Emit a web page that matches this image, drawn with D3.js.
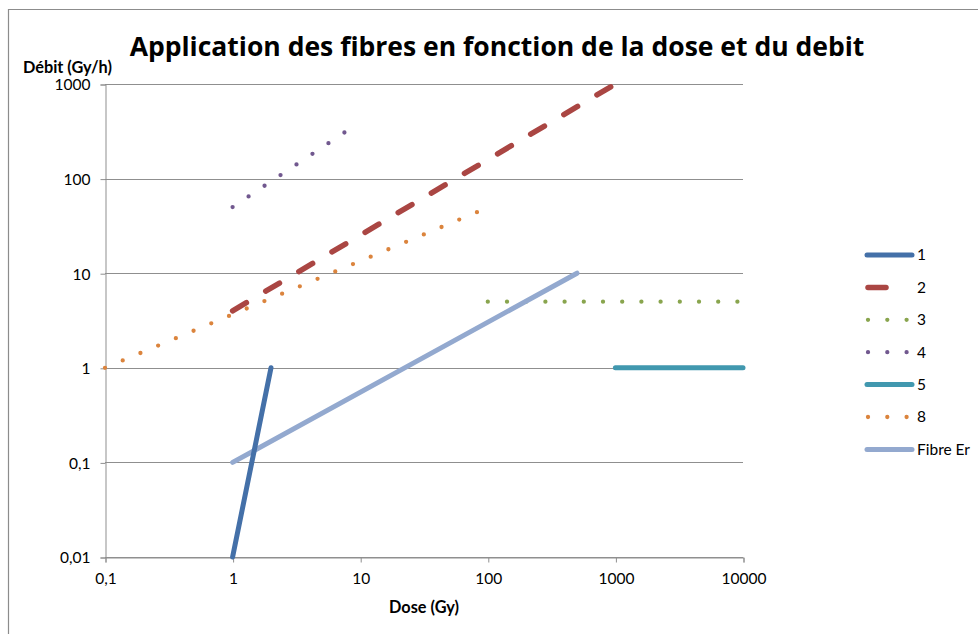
<!DOCTYPE html>
<html>
<head>
<meta charset="utf-8">
<script src="https://cdn.jsdelivr.net/npm/d3@7"></script>
<style>
  html, body { margin: 0; padding: 0; background: #fff; }
  svg { display: block; font-family: Lato, "Open Sans", sans-serif; }
</style>
</head>
<body>
<svg id="chart" width="978" height="634"></svg>
<script>
// Dose (Gy) / dose-rate (Gy/h) ranges for each fibre
const seriesNames = ["1", "2", "3", "4", "5", "8", "Fibre Er"];
const seriesColors = ["#4470a8", "#aa4643", "#89a54e", "#71588f", "#4198af", "#db843d", "#93a9cf"];
const seriesStyles = ["solid", "dash", "dot", "dot", "solid", "dot", "solid"];
const series1 = [[1, 0.01], [2, 1]];
const series2 = [[1, 4], [1000, 1000]];
const series3 = [[100, 5], [10000, 5]];
const series4 = [[1, 50], [7.6, 310]];
const series5 = [[1000, 1], [10000, 1]];
const series8 = [[0.1, 1], [85, 45]];
const seriesFibreEr = [[1, 0.1], [500, 10]];
const seriesData = [series1, series2, series3, series4, series5, series8, seriesFibreEr];
// painting order of the series (index into the arrays above)
const drawOrder = [1, 5, 2, 3, 4, 6, 0];

const xTicks = [0.1, 1, 10, 100, 1000, 10000];
const xTickLabels = ["0,1", "1", "10", "100", "1000", "10000"];
const yTicks = [0.01, 0.1, 1, 10, 100, 1000];
const yTickLabels = ["0,01", "0,1", "1", "10", "100", "1000"];

const titleText = "Application des fibres en fonction de la dose et du debit";
const xTitle = "Dose (Gy)";
const yTitle = "Débit (Gy/h)";

const svg = d3.select("#chart");
const plot = { left: 105, right: 743, top: 84, bottom: 557 };

const x = d3.scaleLog().domain([0.1, 10000]).range([plot.left, plot.right]);
const y = d3.scaleLog().domain([0.01, 1000]).range([plot.bottom, plot.top]);

// scale a text element's font so that it spans the given width
function fitWidth(sel, base, width) {
  const w = sel.node().getComputedTextLength();
  sel.style("font-size", (base * width / w).toFixed(2) + "px");
}

// outer frame
svg.append("path")
  .attr("d", "M8.5,634 L8.5,9.5 L978,9.5")
  .attr("fill", "none").attr("stroke", "#8c8c8c").attr("stroke-width", 1.2);

const gridColor = "#8f8f8f";
const tickFont = "15.5px";

// horizontal gridlines
svg.append("g").selectAll("line").data(yTicks).join("line")
  .attr("x1", plot.left).attr("x2", plot.right)
  .attr("y1", d => Math.round(y(d)) + 0.5).attr("y2", d => Math.round(y(d)) + 0.5)
  .attr("stroke", gridColor).attr("stroke-width", 1);

// y axis
const yAxis = d3.axisLeft(y).tickValues(yTicks)
  .tickFormat((d, i) => yTickLabels[i]).tickSize(5).tickPadding(10);
const gy = svg.append("g").attr("transform", `translate(${plot.left + 0.5},0.5)`).call(yAxis);

// x axis
const xAxis = d3.axisBottom(x).tickValues(xTicks)
  .tickFormat((d, i) => xTickLabels[i]).tickSize(5).tickPadding(10);
const gx = svg.append("g").attr("transform", `translate(0.5,${plot.bottom + 0.5})`).call(xAxis);

[gx, gy].forEach(g => {
  g.select(".domain").attr("stroke", gridColor);
  g.selectAll(".tick line").attr("stroke", gridColor);
  g.selectAll(".tick text").attr("fill", "#000").style("font-size", tickFont)
    .style("font-family", "Lato, 'Open Sans', sans-serif");
});
gy.selectAll(".tick text").attr("dy", "0.35em");

const line = d3.line().x(d => x(d[0])).y(d => y(d[1]));

function styleStroke(sel, style) {
  if (style === "dash") {
    sel.attr("stroke-width", 5.5).attr("stroke-linecap", "round").attr("stroke-dasharray", "16,22.5");
  } else if (style === "dot") {
    sel.attr("stroke-width", 4.3).attr("stroke-linecap", "round").attr("stroke-dasharray", "0,19.2");
  } else {
    sel.attr("stroke-width", 5).attr("stroke-linecap", "round");
  }
  return sel;
}

const gLines = svg.append("g");
drawOrder.forEach(i => {
  const p = gLines.append("path").datum(seriesData[i])
    .attr("d", line).attr("fill", "none").attr("stroke", seriesColors[i]);
  styleStroke(p, seriesStyles[i]);
});

// legend
const legend = svg.append("g").attr("transform", "translate(866,255)");
seriesNames.forEach((name, i) => {
  const row = legend.append("g").attr("transform", `translate(0,${i * 32.4})`);
  const l = row.append("line").attr("y1", 0).attr("y2", 0).attr("stroke", seriesColors[i]);
  if (seriesStyles[i] === "dash") {
    l.attr("stroke-width", 5.5).attr("stroke-linecap", "round").attr("stroke-dasharray", "18,26").attr("x1", 2).attr("x2", 45);
  } else if (seriesStyles[i] === "dot") {
    l.attr("stroke-width", 4.3).attr("stroke-linecap", "round").attr("stroke-dasharray", "0,19.3").attr("x1", 2).attr("x2", 42);
  } else {
    l.attr("stroke-width", 5).attr("stroke-linecap", "round").attr("x1", 1).attr("x2", 46);
  }
  row.append("text").attr("x", 51).attr("y", 0).attr("dy", "0.35em")
    .style("font-size", "15.5px").text(name);
});

// titles
const title = svg.append("text").attr("x", 497).attr("y", 56)
  .attr("text-anchor", "middle").style("font-weight", "bold").style("font-size", "28px")
  .style("font-family", "'Open Sans', Lato, sans-serif").text(titleText);
fitWidth(title, 28, 735);

const yLab = svg.append("text").attr("x", 23).attr("y", 73)
  .style("font-weight", "bold").style("font-size", "15px").text(yTitle);
fitWidth(yLab, 15, 89);

const xLab = svg.append("text").attr("x", 424).attr("y", 612.5).attr("text-anchor", "middle")
  .style("font-weight", "bold").style("font-size", "15px").text(xTitle);
fitWidth(xLab, 15, 70);
</script>
</body>
</html>
